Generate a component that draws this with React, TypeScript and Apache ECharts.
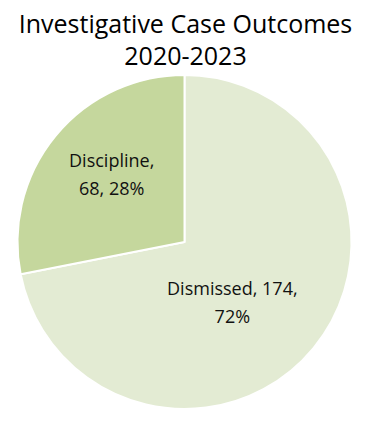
import React, { useEffect, useRef } from "react";
import * as echarts from "echarts";

const categories = ["Dismissed", "Discipline"];
const values = [174, 68];
const percents = [72, 28];
const titleLines = ["Investigative Case Outcomes", "2020-2023"];

export default function App() {
  const ref = useRef<HTMLDivElement>(null);
  useEffect(() => {
    if (!ref.current) return;
    const chart = echarts.init(ref.current, null, { renderer: "svg" });
    const colors = ["#E3EBD3", "#C5D79D"];
    const labelTexts = [
      `${categories[0]}, ${values[0]},\n${percents[0]}%`,
      `${categories[1]},\n${values[1]}, ${percents[1]}%`,
    ];
    const offsets = [[-19, 5], [-6, -13]];
    chart.setOption({
      animation: false,
      title: {
        text: titleLines.join("\n"),
        left: "center",
        top: 2,
        textStyle: {
          fontFamily: "Open Sans",
          fontWeight: "normal",
          fontSize: 25,
          lineHeight: 32,
          color: "#000",
        },
      },
      series: [
        {
          type: "pie",
          center: [184.5, 242],
          radius: [0, 167],
          startAngle: 90,
          clockwise: true,
          itemStyle: { borderColor: "#fff", borderWidth: 2 },
          label: {
            show: true,
            position: "inside",
            fontFamily: "Open Sans",
            fontSize: 18,
            lineHeight: 28,
            color: "#111",
            align: "center",
          },
          labelLine: { show: false },
          emphasis: { disabled: true },
          data: categories.map((c, i) => ({
            name: c,
            value: values[i],
            itemStyle: { color: colors[i] },
            label: { formatter: labelTexts[i], offset: offsets[i] },
          })),
        },
      ],
    });
    return () => chart.dispose();
  }, []);
  return (
    <div
      ref={ref}
      style={{ position: "fixed", left: 0, top: 0, width: 371, height: 421, background: "#fff" }}
    />
  );
}
